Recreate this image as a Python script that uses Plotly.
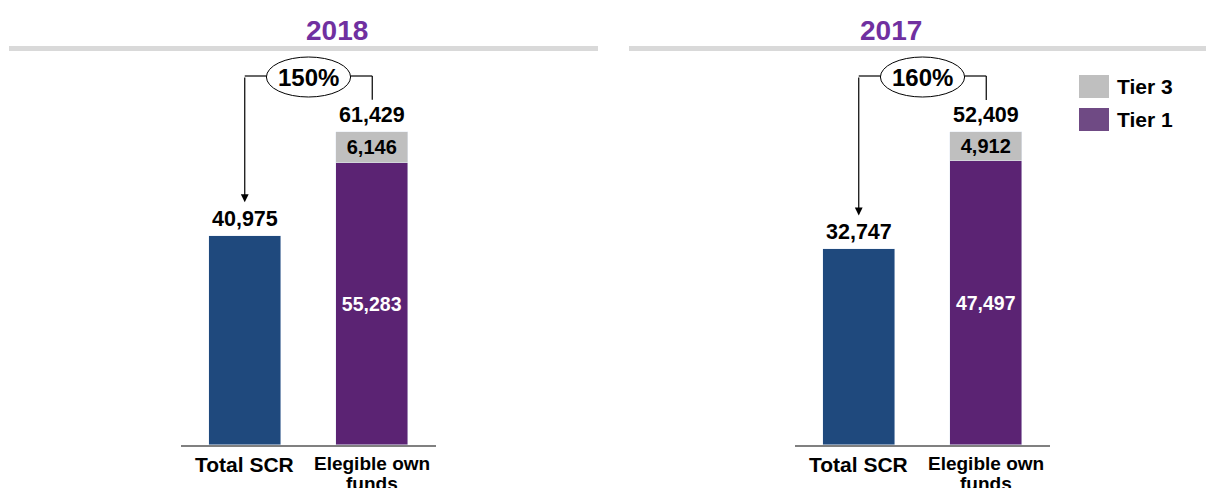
import plotly.graph_objects as go

# ---- data ----
years = ["2018", "2017"]
categories = ["Total SCR", "Elegible own funds"]
category_label_lines = [["Total SCR"], ["Elegible own", "funds"]]
total_scr = [40975, 32747]
tier1 = [55283, 47497]
tier3 = [6146, 4912]
series_names = ["Tier 3", "Tier 1"]

# ---- style ----
W, H = 1206, 488
FONT = "Liberation Sans"
C_SCR = "#1F497D"
C_T1 = "#5B2373"
C_T3 = "#BFBFBF"
C_T1_LEG = "#6F4A84"
C_TITLE = "#7030A0"
BASE_PX = 445  # baseline pixel row
yrange_max = [87300, 74500]
x_domains = [(181, 436), (795, 1050)]
title_bars = [(9, 598), (629, 1206)]
title_centers = [304, 924]


def fx(px):
    return px / W


def fy(py):
    return 1 - py / H


def val_to_py(v, i):
    return BASE_PX - v * BASE_PX / yrange_max[i]


fig = go.Figure()
shapes = []
annotations = []

for i in range(2):
    xa = "x" if i == 0 else "x2"
    ya = "y" if i == 0 else "y2"
    total = tier1[i] + tier3[i]

    fig.add_trace(go.Bar(x=[categories[0]], y=[total_scr[i]], marker_color=C_SCR,
                         width=0.565, showlegend=False, xaxis=xa, yaxis=ya,
                         hoverinfo="skip"))
    fig.add_trace(go.Bar(x=[categories[1]], y=[tier1[i]], marker_color=C_T1,
                         width=0.565, showlegend=False, xaxis=xa, yaxis=ya,
                         text=[f"{tier1[i]:,}"], textposition="inside",
                         insidetextanchor="middle", constraintext="none",
                         textfont=dict(family=FONT, size=19.5, color="white", weight="bold"),
                         hoverinfo="skip"))
    fig.add_trace(go.Bar(x=[categories[1]], y=[tier3[i]], marker_color=C_T3,
                         width=0.565, showlegend=False, xaxis=xa, yaxis=ya,
                         text=[f"{tier3[i]:,}"], textposition="inside",
                         insidetextanchor="middle", constraintext="none",
                         textfont=dict(family=FONT, size=20, color="black", weight="bold"),
                         hoverinfo="skip"))

    # totals above bars
    for cat, v in [(categories[0], total_scr[i]), (categories[1], total)]:
        annotations.append(dict(x=cat, y=v, xref=xa, yref=ya, text=f"{v:,}",
                                showarrow=False, yanchor="middle", yshift=17,
                                font=dict(family=FONT, size=21.5, color="black", weight="bold")))

    # category labels
    annotations.append(dict(x=categories[0], y=fy(464), xref=xa, yref="paper",
                            text=category_label_lines[0][0], showarrow=False,
                            yanchor="middle",
                            font=dict(family=FONT, size=21, color="black", weight="bold")))
    for k, line_txt in enumerate(category_label_lines[1]):
        annotations.append(dict(x=categories[1], y=fy(463 + 20 * k), xref=xa, yref="paper",
                                text=line_txt, showarrow=False, yanchor="middle",
                                font=dict(family=FONT, size=19, color="black", weight="bold")))

    # title and grey separator
    annotations.append(dict(x=fx(title_centers[i]), y=fy(30), xref="paper", yref="paper",
                            text=years[i], showarrow=False, yanchor="middle",
                            font=dict(family=FONT, size=28, color=C_TITLE, weight="bold")))
    shapes.append(dict(type="rect", xref="paper", yref="paper",
                       x0=fx(title_bars[i][0]), x1=fx(title_bars[i][1]),
                       y0=fy(51), y1=fy(46), fillcolor="#D9D9D9", line=dict(width=0)))

    # connector: ratio bubble
    top_py = 76
    scr_py = val_to_py(total_scr[i], i)
    tot_py = val_to_py(total, i)
    tip_py = scr_py - 34
    annotations.append(dict(x=0, y=fy(tip_py), xref=xa, yref="paper", text="",
                            showarrow=True, ax=0, ay=-(tip_py - top_py), axref="pixel",
                            ayref="pixel", arrowhead=2, arrowsize=1.3, arrowwidth=1.2,
                            arrowcolor="black"))
    shapes.append(dict(type="line", xref=xa, yref="paper", x0=0, x1=0.17,
                       y0=fy(top_py), y1=fy(top_py), line=dict(color="black", width=1.2)))
    shapes.append(dict(type="line", xref=xa, yref="paper", x0=0.83, x1=1,
                       y0=fy(top_py), y1=fy(top_py), line=dict(color="black", width=1.2)))
    shapes.append(dict(type="line", xref=xa, yref="paper", x0=1, x1=1,
                       y0=fy(top_py), y1=fy(tot_py - 32), line=dict(color="black", width=1.2)))
    shapes.append(dict(type="circle", xref=xa, yref="paper", x0=0.17, x1=0.83,
                       y0=fy(97), y1=fy(57), fillcolor="white",
                       line=dict(color="black", width=1)))
    pct = round(total / total_scr[i] * 100)
    annotations.append(dict(x=0.5, y=fy(77), xref=xa, yref="paper", text=f"{pct}%",
                            showarrow=False, yanchor="middle",
                            font=dict(family=FONT, size=24, color="black", weight="bold")))

# manual legend
leg_colors = [C_T3, C_T1_LEG]
leg_rows = [(75, 98), (108, 131)]
for name, col, (t, b) in zip(series_names, leg_colors, leg_rows):
    shapes.append(dict(type="rect", xref="paper", yref="paper", x0=fx(1079), x1=fx(1109),
                       y0=fy(b), y1=fy(t), fillcolor=col, line=dict(width=0)))
    annotations.append(dict(x=fx(1115), y=fy((t + b) / 2), xref="paper", yref="paper",
                            text=name, showarrow=False, xanchor="left", yanchor="middle",
                            font=dict(family=FONT, size=21, color="black", weight="bold")))

axis_common = dict(showgrid=False, zeroline=False)
fig.update_layout(
    width=W, height=H,
    margin=dict(l=0, r=0, t=0, b=0),
    paper_bgcolor="white", plot_bgcolor="white",
    barmode="stack", bargap=0,
    showlegend=False,
    font=dict(family=FONT),
    xaxis=dict(domain=[fx(x_domains[0][0]), fx(x_domains[0][1])], range=[-0.5, 1.5],
               showline=True, linecolor="#808080", linewidth=1.5, showticklabels=False,
               ticks="", type="category", categoryorder="array",
               categoryarray=categories, fixedrange=True, **axis_common),
    xaxis2=dict(domain=[fx(x_domains[1][0]), fx(x_domains[1][1])], range=[-0.5, 1.5],
                showline=True, linecolor="#808080", linewidth=1.5, showticklabels=False,
                ticks="", type="category", categoryorder="array",
                categoryarray=categories, anchor="y2", fixedrange=True, **axis_common),
    yaxis=dict(domain=[fy(BASE_PX), 1], range=[0, yrange_max[0]], visible=False,
               **axis_common),
    yaxis2=dict(domain=[fy(BASE_PX), 1], range=[0, yrange_max[1]], visible=False,
                anchor="x2", **axis_common),
    shapes=shapes,
    annotations=annotations,
)

fig.write_html("out.html", config={"displayModeBar": False},
               post_script="document.body.style.margin='0px';document.body.style.overflow='hidden';")
